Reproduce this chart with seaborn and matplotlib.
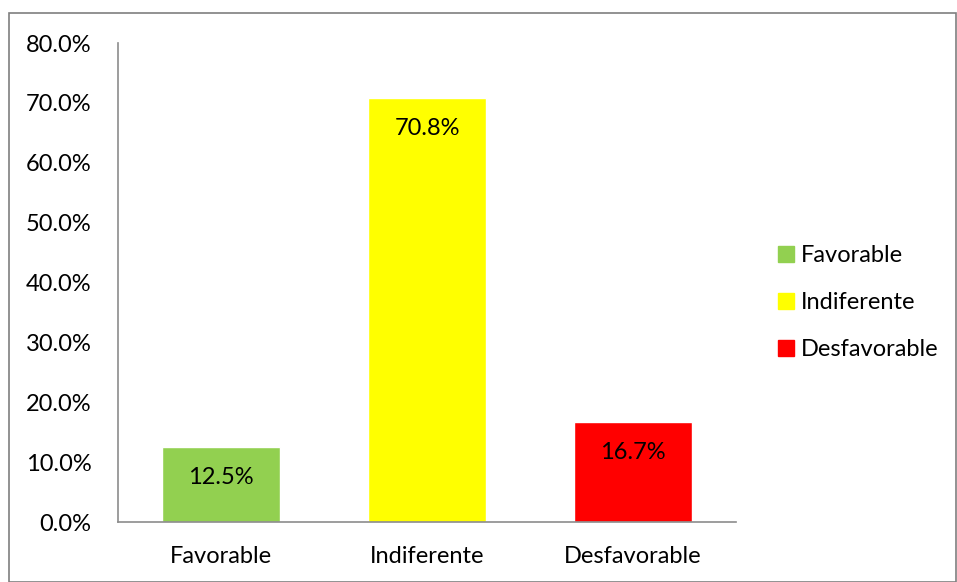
import pandas as pd
import numpy as np
import matplotlib.pyplot as plt
import seaborn as sns
from matplotlib.lines import Line2D
from matplotlib.patches import Rectangle

# data
categorias = ["Favorable", "Indiferente", "Desfavorable"]
porcentajes = [12.5, 70.8, 16.7]
colores = ["#92D050", "#FFFF00", "#FF0000"]

df = pd.DataFrame({"Categoria": categorias, "Porcentaje": porcentajes})

sns.set_style("white")
plt.rcParams['font.family'] = ['Lato', 'DejaVu Sans']
fs = 17

fig = plt.figure(figsize=(9.57, 5.82), dpi=100)
ax = fig.add_axes([0.1233, 0.103, 0.6458, 0.823])

sns.barplot(data=df, x="Categoria", y="Porcentaje", hue="Categoria",
            palette=colores, width=0.573, legend=False, ax=ax, saturation=1)

ax.set_xlim(-0.5, 2.5)
ax.set_ylim(0, 80)
ax.set_yticks(np.arange(0, 81, 10))
ax.set_yticklabels([f"{v:.1f}%" for v in np.arange(0, 81, 10)], fontsize=fs)
ax.tick_params(axis="x", labelsize=fs, length=0, pad=17, labelcolor="black")
ax.tick_params(axis="y", length=0, pad=19, labelcolor="black")
ax.set_xlabel("")
ax.set_ylabel("")

for s in ["top", "right"]:
    ax.spines[s].set_visible(False)
for s in ["left", "bottom"]:
    ax.spines[s].set_color("#8C8C8C")
    ax.spines[s].set_linewidth(1.2)

# value labels inside bar near top
for i, v in enumerate(porcentajes):
    ax.text(i, v - 5.0, f"{v}%", ha="center", va="center", fontsize=fs, color="black")

handles = [Line2D([0], [0], marker="s", linestyle="", markersize=12,
                  markerfacecolor=c, markeredgecolor=c) for c in colores]
fig.legend(handles, categorias, loc="center left", bbox_to_anchor=(0.787, 0.48),
           frameon=False, fontsize=fs, handletextpad=0.1, labelspacing=1.1,
           handlelength=1.0, labelcolor="black")

# border around the chart area
fig.patches.append(Rectangle((0.009, 0.0), 0.99, 0.977, transform=fig.transFigure,
                             fill=False, edgecolor="#7F7F7F", linewidth=1.2))

plt.savefig("out.png", dpi=100)
